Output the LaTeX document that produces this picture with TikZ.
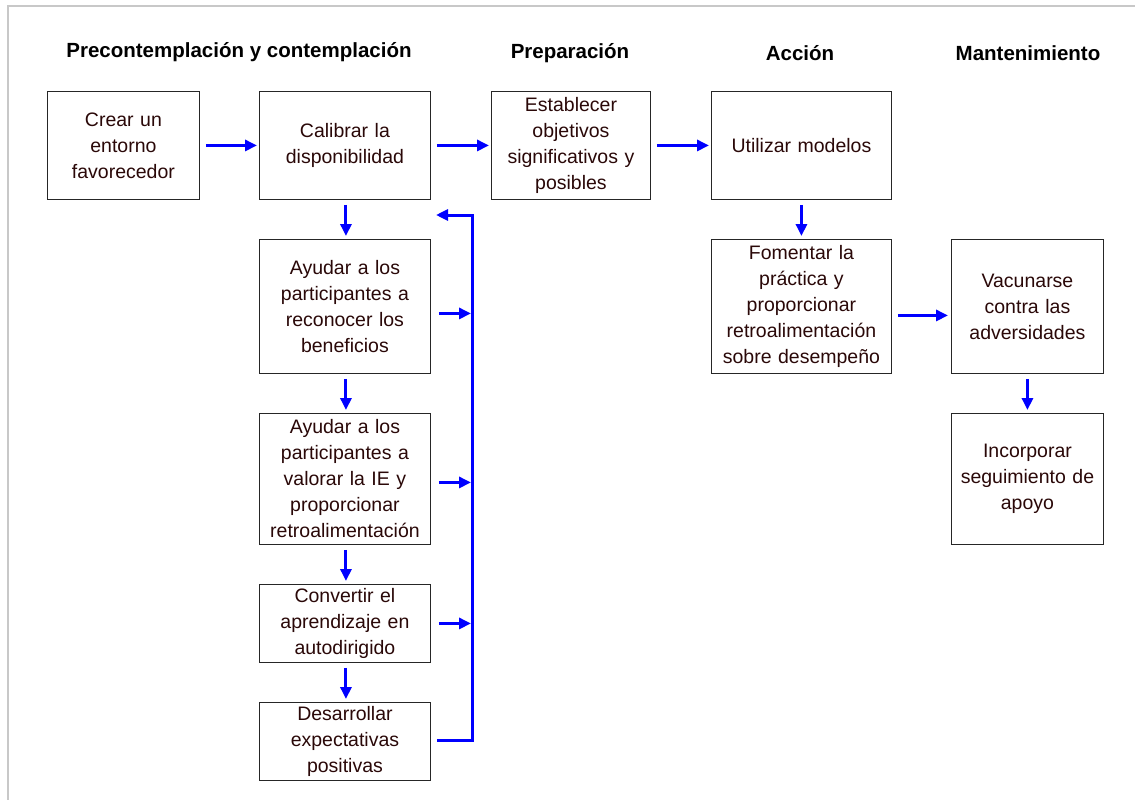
\documentclass[tikz,border=0pt]{standalone}
\usepackage{fontspec}
\setmainfont{Liberation Sans}
\usetikzlibrary{arrows.meta}
\definecolor{txt}{RGB}{42,8,8}
\definecolor{flow}{RGB}{0,0,255}
\definecolor{frame}{RGB}{200,200,200}
\tikzset{
  stage/.style={draw=black!85, line width=0.9pt, align=center, text=txt,
    font=\fontsize{19.5}{26}\selectfont, inner sep=0pt, anchor=north west},
  head/.style={font=\fontsize{20.5}{24}\selectfont\bfseries, text=black},
  flowarrow/.style={draw=flow, line width=3pt, -{Triangle[length=12pt,width=11pt]}},
  flowline/.style={draw=flow, line width=3pt},
}
% box: name, left, top, width, height, text
\newcommand{\stagebox}[6]{%
  \node[stage, minimum width=#4pt, minimum height=#5pt, text width=#4pt-6pt]
    (#1) at (#2,#3) {#6};}
\begin{document}
\begin{tikzpicture}[x=1pt, y=-1pt]
\useasboundingbox (0,0) rectangle (1135,800);
\fill[white] (0,0) rectangle (1135,800);
% outer frame edges
\draw[frame, line width=1.5pt] (8,800) -- (8,6) -- (1135,6);

% stage headings
\node[head] (h1) at (239,52) {Precontemplación y contemplación};
\node[head] (h2) at (570,53) {Preparación};
\node[head] (h3) at (800,53) {Acción};
\node[head] (h4) at (1028,53) {Mantenimiento};

% boxes
\stagebox{a}{47}{91}{152}{108}{Crear un\\entorno\\favorecedor}
\stagebox{b}{259}{91}{171}{108}{Calibrar la\\disponibilidad}
\stagebox{c}{491}{91}{159}{108}{Establecer\\objetivos\\significativos y\\posibles}
\stagebox{d}{711}{91}{180}{108}{Utilizar modelos}
\stagebox{e}{259}{239}{171}{134}{Ayudar a los\\participantes a\\reconocer los\\beneficios}
\stagebox{f}{259}{413}{171}{131}{Ayudar a los\\participantes a\\valorar la IE y\\proporcionar\\retroalimentación}
\stagebox{g}{259}{584}{171}{78}{Convertir el\\aprendizaje en\\autodirigido}
\stagebox{hh}{259}{702}{171}{78}{Desarrollar\\expectativas\\positivas}
\stagebox{i}{711}{239}{180}{134}{Fomentar la\\práctica y\\proporcionar\\retroalimentación\\sobre desempeño}
\stagebox{j}{951}{239}{152}{134}{Vacunarse\\contra las\\adversidades}
\stagebox{k}{951}{413}{152}{131}{Incorporar\\seguimiento de\\apoyo}

% main flow
\draw[flowarrow] ([xshift=6pt]a.east) -- ([xshift=-2pt]b.west);
\draw[flowarrow] ([xshift=6pt]b.east) -- ([xshift=-2pt]c.west);
\draw[flowarrow] ([xshift=6pt]c.east) -- ([xshift=-2pt]d.west);
\draw[flowarrow] ([yshift=-5pt]d.south) -- ([yshift=3pt]i.north);
\draw[flowarrow] ([xshift=6pt,yshift=-9pt]i.east) -- ([xshift=-3pt,yshift=-9pt]j.west);
\draw[flowarrow] ([yshift=-5pt]j.south) -- ([yshift=3pt]k.north);

% left column chain
\draw[flowarrow] ([xshift=1pt,yshift=-5pt]b.south) -- ([xshift=1pt,yshift=3pt]e.north);
\draw[flowarrow] ([xshift=1pt,yshift=-5pt]e.south) -- ([xshift=1pt,yshift=3pt]f.north);
\draw[flowarrow] ([xshift=1pt,yshift=-5pt]f.south) -- ([xshift=1pt,yshift=3pt]g.north);
\draw[flowarrow] ([xshift=1pt,yshift=-5pt]g.south) -- ([xshift=1pt,yshift=3pt]hh.north);

% return bus back to the calibration step
\coordinate (bustop) at (472,215);
\coordinate (busbot) at (472,740);
\draw[flowline, line cap=rect] ([xshift=8pt]hh.east |- busbot) -- (busbot) -- (bustop);
\draw[flowarrow] (bustop) -- (436,215);
\draw[flowarrow] ([xshift=8pt,yshift=-7pt]e.east) -- ([xshift=-1pt,yshift=-7pt]e.east -| bustop);
\draw[flowarrow] ([xshift=8pt,yshift=-3.5pt]f.east) -- ([xshift=-1pt,yshift=-3.5pt]f.east -| bustop);
\draw[flowarrow] ([xshift=8pt]g.east) -- ([xshift=-1pt]g.east -| bustop);
\end{tikzpicture}
\end{document}
